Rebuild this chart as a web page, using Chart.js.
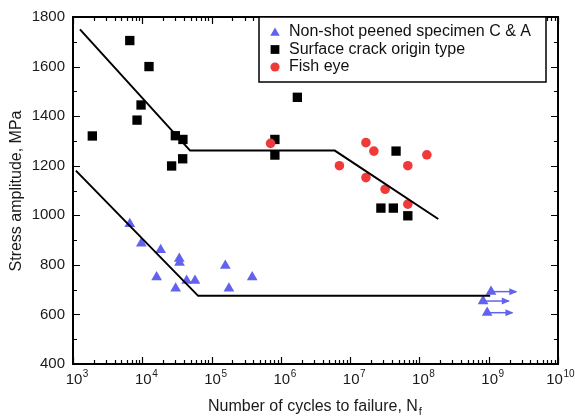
<!DOCTYPE html>
<html>
<head>
<meta charset="utf-8">
<title>S-N curve</title>
<script src="https://cdn.jsdelivr.net/npm/chart.js@4.4.0/dist/chart.umd.min.js"></script>
<style>
  html, body { margin: 0; padding: 0; background: #fff; }
  #wrap { width: 575px; height: 416px; }
</style>
</head>
<body>
<div id="wrap"><canvas id="sn" width="575" height="416"></canvas></div>
<script>
/* S-N diagram: stress amplitude vs. cycles to failure (log x) */

// --- data (N in cycles, S in MPa) ---
const NSP_N = [6.6e3, 9.7e3, 1.84e4, 1.61e4, 3.42e4, 3.45e4, 3.03e4, 4.37e4, 5.76e4, 1.58e5, 1.78e5, 3.86e5];
const NSP_S = [965, 887, 860, 750, 825, 809, 705, 736, 736, 797, 705, 750];

// run-outs (not broken) + where their arrows end
const RUN_N   = [1.08e9, 8.3e8, 9.5e8];
const RUN_S   = [692, 654, 607];
const RUN_TIP = [2.5e9, 1.95e9, 2.2e9];

const SURF_N = [1.9e3, 6.6e3, 1.25e4, 9.6e3, 8.4e3, 3.0e4, 3.86e4, 2.65e4, 3.83e4, 8.2e5, 8.2e5, 1.73e6, 4.6e7, 2.78e7, 4.2e7, 6.8e7];
const SURF_S = [1320, 1705, 1600, 1445, 1384, 1321, 1306, 1199, 1228, 1306, 1243, 1476, 1259, 1029, 1029, 998];

const FISH_N = [7.1e5, 1.69e7, 2.2e7, 7.0e6, 1.69e7, 3.2e7, 6.8e7, 1.28e8, 6.8e7];
const FISH_S = [1290, 1293, 1259, 1200, 1152, 1105, 1200, 1244, 1045];

// fitted S-N lines
const UP_N  = [1.26e3, 4.9e4, 6.0e6, 1.87e8];
const UP_S  = [1750, 1261, 1261, 985];
const LOW_N = [1.1e3, 6.4e4, 1.05e9];
const LOW_S = [1180, 675, 675];

const LABELS = ["Non-shot peened specimen C & A", "Surface crack origin type", "Fish eye"];
const X_DECADES = [3, 4, 5, 6, 7, 8, 9, 10];
const Y_TICKS = [400, 600, 800, 1000, 1200, 1400, 1600, 1800];
const Y_MINOR = [500, 700, 900, 1100, 1300, 1500, 1700];

const BLUE = "#6262ee";
const RED = "#f03a3a";
const FONT = "'Liberation Sans', Arial, Helvetica, sans-serif";

const pts = (xs, ys) => xs.map((v, i) => ({ x: v, y: ys[i] }));

// marker drawing for the boxed legend
function marker(ctx, style, x, y, r, color) {
    ctx.fillStyle = color;
    ctx.beginPath();
    if (style === "triangle") {
        ctx.moveTo(x, y - r);
        ctx.lineTo(x + r * 0.866, y + r / 2);
        ctx.lineTo(x - r * 0.866, y + r / 2);
        ctx.closePath();
    } else if (style === "rect") {
        const s = r * Math.SQRT1_2;
        ctx.rect(x - s, y - s, 2 * s, 2 * s);
    } else {
        ctx.arc(x, y, r, 0, Math.PI * 2);
    }
    ctx.fill();
}

const decor = {
    id: "decor",
    afterDatasetsDraw(chart) {
        // arrow heads on run-outs
        const { ctx, scales: { x, y } } = chart;
        ctx.save();
        ctx.fillStyle = BLUE;
        RUN_TIP.forEach((t, i) => {
            const px = x.getPixelForValue(t), py = y.getPixelForValue(RUN_S[i]);
            ctx.beginPath();
            ctx.moveTo(px + 1, py);
            ctx.lineTo(px - 7, py - 3.5);
            ctx.lineTo(px - 7, py + 3.5);
            ctx.closePath();
            ctx.fill();
        });
        ctx.restore();
    },
    afterDraw(chart) {
        const { ctx, chartArea: a, scales: { x, y } } = chart;
        ctx.save();
        ctx.strokeStyle = "#000";

        // inward ticks on all four sides
        ctx.lineWidth = 1.2;
        ctx.beginPath();
        X_DECADES.forEach((d, i) => {
            for (let m = 1; m <= 9; m++) {
                if (m > 1 && i === X_DECADES.length - 1) break;
                const px = Math.round(x.getPixelForValue(m * Math.pow(10, d))) + 0.5;
                const len = m === 1 ? 7 : 4;
                ctx.moveTo(px, a.bottom); ctx.lineTo(px, a.bottom - len);
                ctx.moveTo(px, a.top); ctx.lineTo(px, a.top + len);
            }
        });
        Y_TICKS.concat(Y_MINOR).forEach(v => {
            const py = Math.round(y.getPixelForValue(v)) + 0.5;
            const len = Y_TICKS.includes(v) ? 7 : 4;
            ctx.moveTo(a.left, py); ctx.lineTo(a.left + len, py);
            ctx.moveTo(a.right, py); ctx.lineTo(a.right - len, py);
        });
        ctx.stroke();

        ctx.lineWidth = 2;
        ctx.strokeRect(a.left, a.top, a.right - a.left, a.bottom - a.top);

        // x tick labels 10^n
        ctx.fillStyle = "#1a1a1a";
        ctx.textBaseline = "alphabetic";
        X_DECADES.forEach(d => {
            let px = x.getPixelForValue(Math.pow(10, d));
            ctx.font = "15px " + FONT;
            const w = ctx.measureText("10").width;
            ctx.font = "10px " + FONT;
            const ew = ctx.measureText(String(d)).width;
            // keep the last label inside the canvas
            px = Math.min(px + 1, 574 - ew - w / 2);
            ctx.font = "15px " + FONT;
            ctx.textAlign = "center";
            ctx.fillText("10", px, 384);
            ctx.font = "10px " + FONT;
            ctx.textAlign = "left";
            ctx.fillText(String(d), px + w / 2 + 0.5, 377);
        });

        // axis titles
        ctx.font = "16px " + FONT;
        ctx.textAlign = "left";
        const xt = "Number of cycles to failure, N";
        ctx.fillText(xt, 208, 411);
        const xw = ctx.measureText(xt).width;
        ctx.font = "11px " + FONT;
        ctx.fillText("f", 208 + xw + 1, 415);

        ctx.save();
        ctx.translate(17, 191);
        ctx.rotate(-Math.PI / 2);
        ctx.font = "16px " + FONT;
        ctx.textAlign = "center";
        ctx.textBaseline = "middle";
        ctx.fillText("Stress amplitude, MPa", 0, 0);
        ctx.restore();

        // boxed legend inside the plot
        const lx = 259, ly = a.top, lw = 287, lh = 65;
        ctx.fillStyle = "#fff";
        ctx.fillRect(lx, ly, lw, lh);
        ctx.lineWidth = 1.5;
        ctx.strokeRect(lx, ly, lw, lh);
        const styles = [["triangle", 5.5, BLUE], ["rect", 6.2, "#000"], ["circle", 4.6, RED]];
        ctx.font = "16px " + FONT;
        ctx.textAlign = "left";
        ctx.textBaseline = "middle";
        LABELS.forEach((t, i) => {
            const cy = ly + 15 + i * 17.5;
            marker(ctx, styles[i][0], lx + 16, cy + (i === 0 ? 1 : 0), styles[i][1], styles[i][2]);
            ctx.fillStyle = "#111";
            ctx.fillText(t, lx + 30, cy);
        });
        ctx.restore();
    }
};

const lineDs = (data) => ({
    type: "line", data, showLine: true, borderColor: "#000", borderWidth: 2,
    pointRadius: 0, fill: false, tension: 0
});

const arrowDs = RUN_N.map((n, i) => ({
    type: "line",
    data: [{ x: n, y: RUN_S[i] }, { x: RUN_TIP[i], y: RUN_S[i] }],
    showLine: true, borderColor: BLUE, borderWidth: 1.5, pointRadius: 0, fill: false
}));

Chart.defaults.font.family = FONT;

new Chart(document.getElementById("sn"), {
    type: "scatter",
    data: {
        datasets: [
            lineDs(pts(UP_N, UP_S)),
            lineDs(pts(LOW_N, LOW_S)),
            ...arrowDs,
            { label: LABELS[2], data: pts(FISH_N, FISH_S), pointStyle: "circle",
              pointRadius: 4.8, backgroundColor: RED, borderWidth: 0 },
            { label: LABELS[1], data: pts(SURF_N, SURF_S), pointStyle: "rect",
              pointRadius: 6.6, backgroundColor: "#000", borderWidth: 0 },
            { label: LABELS[0], data: pts(NSP_N.concat(RUN_N), NSP_S.concat(RUN_S)), pointStyle: "triangle",
              pointRadius: 6.2, backgroundColor: BLUE, borderWidth: 0 },
        ]
    },
    options: {
        responsive: false,
        animation: false,
        devicePixelRatio: 1,
        layout: { padding: { left: 0, top: 17, right: 17, bottom: 0 } },
        plugins: { legend: { display: false }, tooltip: { enabled: false } },
        scales: {
            x: {
                type: "logarithmic", min: 1e3, max: 1e10,
                grid: { display: false, drawTicks: false },
                border: { display: false },
                ticks: { display: false },
                afterFit: s => { s.height = 52; }
            },
            y: {
                min: 400, max: 1800,
                grid: { display: false, drawTicks: false },
                border: { display: false },
                ticks: { stepSize: 200, padding: 8, color: "#1a1a1a", font: { size: 15 },
                         callback: v => String(v) },
                afterFit: s => { s.width = 73; }
            }
        }
    },
    plugins: [decor]
});
</script>
</body>
</html>
